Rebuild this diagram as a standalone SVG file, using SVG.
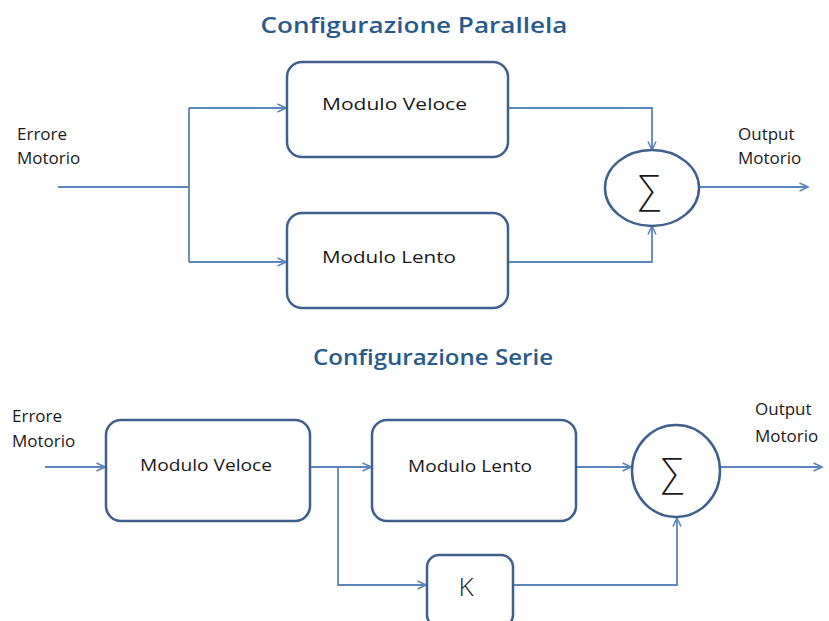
<svg xmlns="http://www.w3.org/2000/svg" width="829" height="621" viewBox="0 0 829 621">
  <style>
    .title { font-family: "Open Sans", "Liberation Sans", sans-serif; font-weight: 600; font-size: 22px; fill: #285a8c; }
    .lbl { font-family: "Open Sans", "Liberation Sans", sans-serif; font-size: 17px; fill: #1a1a1a; }
    .box { fill: #ffffff; stroke: #3f5f8c; stroke-width: 2.5; }
    .wire { fill: none; stroke: #5b86bb; stroke-width: 1.8; }
    .sig { font-family: "Open Sans", "DejaVu Sans", sans-serif; font-weight: 300; font-size: 38px; fill: #1a1a1a; }
    .k { font-family: "Open Sans", "Liberation Sans", sans-serif; font-weight: 300; font-size: 26px; fill: #1a1a1a; }
  </style>
  <defs>
    <marker id="arr" viewBox="0 0 10 10" refX="9.5" refY="5" markerWidth="10" markerHeight="10" markerUnits="userSpaceOnUse" orient="auto">
      <path d="M1,1 L9.5,5 L1,9" fill="none" stroke="#5b86bb" stroke-width="1.6"/>
    </marker>
  </defs>
  <rect width="829" height="621" fill="#ffffff"/>

  <!-- parallel configuration -->
  <text class="title" x="414" y="33" text-anchor="middle" textLength="307" lengthAdjust="spacingAndGlyphs">Configurazione Parallela</text>

  <g id="p-connectors">
    <path class="wire" d="M58,187 H189"/>
    <path class="wire" d="M189,108 V262"/>
    <path class="wire" d="M189,108 H286" marker-end="url(#arr)"/>
    <path class="wire" d="M189,262 H286" marker-end="url(#arr)"/>
    <path class="wire" d="M509,108 H652 V150" marker-end="url(#arr)"/>
    <path class="wire" d="M509,262 H652 V226" marker-end="url(#arr)"/>
    <path class="wire" d="M699,187 H808" marker-end="url(#arr)"/>
  </g>

  <g id="p-in">
    <text class="lbl" x="17" y="140">Errore</text>
    <text class="lbl" x="17" y="164">Motorio</text>
  </g>
  <g id="p-veloce">
    <rect class="box" x="287" y="62" width="221" height="95" rx="15"/>
    <text class="lbl" x="322" y="110" textLength="145" lengthAdjust="spacingAndGlyphs">Modulo Veloce</text>
  </g>
  <g id="p-lento">
    <rect class="box" x="287" y="213" width="221" height="95" rx="15"/>
    <text class="lbl" x="322" y="263" textLength="134" lengthAdjust="spacingAndGlyphs">Modulo Lento</text>
  </g>
  <g id="p-sum">
    <ellipse class="box" cx="652" cy="188" rx="47" ry="38"/>
    <text class="sig" x="649" y="202" text-anchor="middle">∑</text>
  </g>
  <g id="p-out">
    <text class="lbl" x="738" y="140">Output</text>
    <text class="lbl" x="738" y="164">Motorio</text>
  </g>

  <!-- series configuration -->
  <text class="title" x="433" y="365" text-anchor="middle" textLength="240" lengthAdjust="spacingAndGlyphs">Configurazione Serie</text>

  <g id="s-connectors">
    <path class="wire" d="M45,467 H105" marker-end="url(#arr)"/>
    <path class="wire" d="M311,467 H371" marker-end="url(#arr)"/>
    <path class="wire" d="M338,467 V585 H426" marker-end="url(#arr)"/>
    <path class="wire" d="M577,467 H631" marker-end="url(#arr)"/>
    <path class="wire" d="M514,585 H677 V518" marker-end="url(#arr)"/>
    <path class="wire" d="M720,467 H822" marker-end="url(#arr)"/>
  </g>

  <g id="s-in">
    <text class="lbl" x="12" y="422">Errore</text>
    <text class="lbl" x="12" y="447">Motorio</text>
  </g>
  <g id="s-veloce">
    <rect class="box" x="106" y="420" width="204" height="101" rx="15"/>
    <text class="lbl" x="140" y="471" textLength="132" lengthAdjust="spacingAndGlyphs">Modulo Veloce</text>
  </g>
  <g id="s-lento">
    <rect class="box" x="372" y="420" width="204" height="101" rx="15"/>
    <text class="lbl" x="408" y="472" textLength="124" lengthAdjust="spacingAndGlyphs">Modulo Lento</text>
  </g>
  <g id="s-sum">
    <ellipse class="box" cx="676" cy="471" rx="44" ry="46"/>
    <text class="sig" x="672" y="485" text-anchor="middle">∑</text>
  </g>
  <g id="s-k">
    <rect class="box" x="427" y="555" width="86" height="72" rx="12"/>
    <text class="k" x="466" y="596" text-anchor="middle">K</text>
  </g>
  <g id="s-out">
    <text class="lbl" x="755" y="415">Output</text>
    <text class="lbl" x="755" y="442">Motorio</text>
  </g>
</svg>
